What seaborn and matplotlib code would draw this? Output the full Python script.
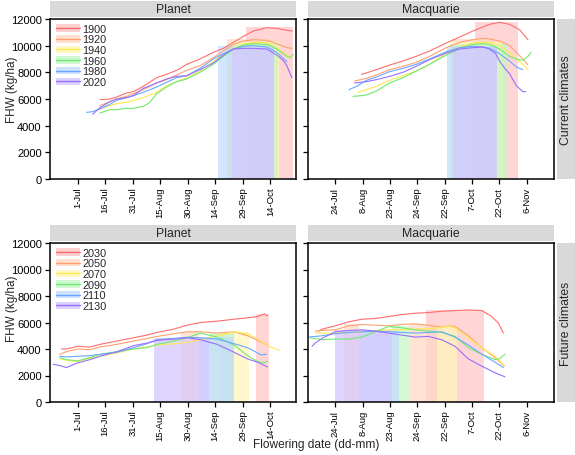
import matplotlib
matplotlib.use("Agg")
import pandas as pd
import matplotlib.pyplot as plt
from matplotlib.colors import to_rgb
from matplotlib.patches import Patch
from matplotlib.lines import Line2D
import seaborn as sns

# series labels and colours
cur_years = ['1900', '1920', '1940', '1960', '1980', '2020']
fut_years = ['2030', '2050', '2070', '2090', '2110', '2130']
year_colors = ['#ff6e6e', '#ffa06e', '#ffe94f', '#6fea6f', '#6aa8ff', '#9670ff']

# x axis (day of year) ticks
left_ticks = [182, 197, 212, 227, 242, 257, 272, 287]
left_labels = ['1-Jul', '16-Jul', '31-Jul', '15-Aug', '30-Aug', '14-Sep', '29-Sep', '14-Oct']
right_ticks = [205, 220, 235, 250, 265, 280, 295, 310]
right_labels = ['24-Jul', '8-Aug', '23-Aug', '24-Sep', '22-Sep', '7-Oct', '22-Oct', '6-Nov']
y_ticks = [0, 2000, 4000, 6000, 8000, 10000, 12000]

# ---- current climates, Planet
cp_doy = {
    '1900': [194.2, 199.6, 203.3, 208.7, 212.4, 217.8, 225.1, 230.5, 236, 241.5, 248.7, 256, 261.5, 266.9, 272.4, 277.8, 285.1, 290.5, 296, 299],
    '1920': [194.2, 199.6, 203.3, 208.7, 212.4, 217.8, 225.1, 230.5, 236, 241.5, 248.7, 256, 261.5, 266.9, 272.4, 277.8, 285.1, 290.5, 296, 299],
    '1940': [194.2, 199.6, 203.3, 208.7, 212.4, 217.8, 225.1, 230.5, 236, 241.5, 248.7, 256, 261.5, 266.9, 272.4, 277.8, 285.1, 290.5, 296, 298.7],
    '1960': [194.2, 199.6, 203.3, 208.7, 212.4, 217.8, 221, 225.1, 230.5, 236, 241.5, 248.7, 256, 261.5, 266.9, 272.4, 277.8, 285.1, 290.5, 296, 297.8, 299.6],
    '1980': [186.9, 190.2, 194.2, 199.6, 203.3, 208.7, 212.4, 217.8, 225.1, 230.5, 236, 241.5, 248.7, 256, 261.5, 266.9, 272.4, 277.8, 285.1, 290.5, 296],
    '2020': [190.2, 194.2, 199.6, 203.3, 208.7, 212.4, 217.8, 225.1, 230.5, 236, 241.5, 248.7, 256, 261.5, 266.9, 272.4, 277.8, 285.1, 290.5, 294, 296, 298.7],
}
cp_fhw = {
    '1900': [5950, 6000, 6150, 6450, 6550, 6950, 7600, 7850, 8150, 8600, 9000, 9500, 9800, 10250, 10700, 11100, 11350, 11300, 11150, 11100],
    '1920': [5500, 5800, 6000, 6200, 6400, 6700, 7200, 7450, 7800, 8150, 8500, 9100, 9600, 10100, 10350, 10450, 10400, 10150, 9850, 9800],
    '1940': [5250, 5500, 5650, 5750, 5900, 6100, 6500, 7000, 7300, 7600, 8100, 8800, 9300, 9800, 10100, 10250, 10250, 9800, 9300, 9100],
    '1960': [4950, 5200, 5200, 5300, 5300, 5450, 5700, 6400, 6900, 7300, 7500, 8000, 8600, 9200, 9750, 10050, 10150, 10100, 9750, 9200, 9100, 9350],
    '1980': [5000, 5050, 5250, 5600, 5900, 6100, 6250, 6500, 6900, 7250, 7600, 7750, 8300, 9000, 9400, 9750, 9950, 10000, 9900, 9500, 8800],
    '2020': [4850, 5350, 5800, 6000, 6100, 6250, 6800, 7200, 7500, 7700, 7750, 8200, 8700, 9300, 9750, 9800, 9800, 9750, 9300, 8900, 8500, 7600],
}
cp_band_year = ['1900', '1920', '1940', '1960', '1980', '2020']
cp_band_start = [273.6, 263.6, 264, 263.6, 258.7, 266]
cp_band_end = [299.3, 291.8, 291.8, 291, 289, 289.1]
cp_band_top = [11375, 10500, 10300, 10150, 10000, 9850]

# ---- current climates, Macquarie
cm_doy = {
    '1900': [219.3, 222, 227.5, 234.8, 242.1, 249.4, 256.7, 265.9, 273.2, 280.5, 286, 289.6, 295.1, 300.6, 306.1, 310.7],
    '1920': [215.6, 222, 227.5, 234.8, 242.1, 249.4, 256.7, 265.9, 273.2, 280.5, 286, 289.6, 295.1, 300.6, 304.3, 307.9, 310.7],
    '1940': [217.4, 222, 227.5, 234.8, 242.1, 249.4, 256.7, 265.9, 273.2, 280.5, 286, 289.6, 295.1, 300.6, 304.3, 307.9, 310.7],
    '1960': [214.7, 219.3, 222, 227.5, 234.8, 242.1, 249.4, 256.7, 265.9, 273.2, 280.5, 286, 289.6, 295.1, 300.6, 304.3, 307.9, 310.7, 312.5],
    '1980': [212.5, 217.4, 222, 227.5, 234.8, 242.1, 249.4, 256.7, 265.9, 273.2, 280.5, 286, 289.6, 295.1, 300.6, 304.3, 307.9],
    '2020': [215.6, 222, 227.5, 234.8, 242.1, 249.4, 256.7, 265.9, 273.2, 280.5, 286, 289.6, 293, 295.1, 298, 300.6, 304.3, 307.9, 309.5],
}
cm_fhw = {
    '1900': [7850, 7950, 8200, 8550, 8850, 9200, 9600, 10200, 10650, 11100, 11400, 11600, 11750, 11600, 11200, 10450],
    '1920': [7350, 7550, 7800, 8200, 8450, 8750, 9200, 9850, 10250, 10450, 10550, 10500, 10350, 10000, 9500, 9000, 8550],
    '1940': [6500, 6700, 6950, 7400, 7750, 8100, 8600, 9450, 9900, 10200, 10250, 10250, 10000, 9500, 9000, 8600, 8200],
    '1960': [6200, 6250, 6300, 6600, 7200, 7600, 8100, 8600, 9300, 9800, 10100, 10150, 10100, 9750, 9200, 9000, 8900, 9200, 9500],
    '1980': [6700, 7000, 7400, 7650, 8050, 8300, 8600, 9000, 9550, 9850, 9950, 9900, 9800, 9400, 8850, 8400, 8200],
    '2020': [7200, 7300, 7450, 7700, 8000, 8450, 8950, 9450, 9750, 9850, 9900, 9750, 9400, 8850, 8300, 7900, 7000, 6550, 6550],
}
cm_band_year = ['1900', '1920', '1940', '1960', '1980', '2020']
cm_band_start = [281.5, 269, 268, 268, 266.3, 269.3]
cm_band_end = [305.3, 297, 297, 299.8, 293.8, 293.8]
cm_band_top = [11750, 10500, 10250, 10150, 9950, 9900]

# ---- future climates, Planet
fp_doy = {
    '2030': [173.2, 176, 182, 188.8, 194.2, 203.4, 212.5, 219.8, 225.3, 234.4, 241.7, 249, 258.1, 267.3, 274.6, 280.1, 283.7, 285.5],
    '2050': [172.3, 176, 182, 188.8, 194.2, 203.4, 212.5, 219.8, 225.3, 234.4, 241.7, 249, 258.1, 267.3, 274.6, 280.1, 285.5],
    '2070': [172.3, 176, 182, 188.8, 194.2, 203.4, 212.5, 219.8, 225.3, 234.4, 241.7, 249, 258.1, 267.3, 274.6, 280.1, 285.5, 291.9],
    '2090': [172.3, 176, 182, 188.8, 194.2, 203.4, 212.5, 219.8, 225.3, 234.4, 241.7, 249, 258.1, 267.3, 274.6, 280.1, 283.7, 285.5],
    '2110': [172.3, 176, 182, 188.8, 194.2, 203.4, 212.5, 219.8, 225.3, 234.4, 241.7, 249, 258.1, 267.3, 274.6, 280.1, 282, 285],
    '2130': [168.7, 172.3, 176, 182, 188.8, 194.2, 203.4, 212.5, 219.8, 225.3, 234.4, 241.7, 249, 258.1, 267.3, 274.6, 280.1, 285.5],
}
fp_fhw = {
    '2030': [4000, 4000, 4200, 4150, 4350, 4600, 4850, 5050, 5250, 5500, 5800, 6000, 6100, 6250, 6350, 6450, 6650, 6500],
    '2050': [3600, 3800, 4000, 3950, 4150, 4350, 4600, 4800, 4950, 5150, 5300, 5300, 5200, 5300, 5000, 4650, 4300],
    '2070': [3250, 3150, 3050, 3300, 3450, 3700, 4000, 4150, 4300, 4400, 4500, 4700, 5000, 5300, 5150, 4750, 4250, 3900],
    '2090': [3350, 3200, 3100, 3350, 3600, 3800, 4000, 4100, 4350, 4600, 4850, 5200, 4900, 4300, 3500, 3050, 2950, 3100],
    '2110': [3450, 3400, 3450, 3500, 3600, 3750, 4100, 4400, 4700, 4800, 4880, 4850, 4750, 4400, 4100, 3700, 3550, 3600],
    '2130': [2850, 2750, 2600, 2950, 3200, 3450, 3800, 4250, 4450, 4650, 4750, 4850, 4700, 4350, 3750, 3250, 3000, 2650],
}
fp_band_year = ['2030', '2050', '2050', '2070', '2090', '2110', '2130']
fp_band_start = [279.2, 238.6, 259.4, 267.3, 253.6, 248.1, 223.4]
fp_band_end = [286.4, 248.1, 267.3, 275.2, 267.3, 267.3, 253.6]
fp_band_top = [6650, 5300, 5300, 5300, 5200, 4880, 4850]

# ---- future climates, Macquarie
fm_doy = {
    '2030': [195.9, 197.7, 205, 212.3, 219.6, 226.9, 234.2, 241.5, 248.8, 256.1, 263.4, 270.7, 278, 285.4, 290.8, 294.5, 297.2],
    '2050': [194, 197.7, 205, 212.3, 219.6, 226.9, 234.2, 241.5, 248.8, 256.1, 263.4, 267, 270.7, 278, 285.4, 292.7, 297.7],
    '2070': [194, 197.7, 205, 212.3, 219.6, 226.9, 234.2, 241.5, 248.8, 256.1, 263.4, 267, 270.7, 278, 285.4, 292.7, 297.7],
    '2090': [191.3, 197.7, 205, 212.3, 219.6, 226.9, 234.2, 241.5, 248.8, 256.1, 263.4, 270.7, 278, 285.4, 292.7, 295, 298.1],
    '2110': [190.4, 197.7, 205, 212.3, 219.6, 226.9, 234.2, 241.5, 248.8, 256.1, 263.4, 270.7, 278, 285.4, 292.7, 297.2],
    '2130': [192.2, 194, 197.7, 205, 212.3, 219.6, 226.9, 234.2, 241.5, 248.8, 256.1, 263.4, 270.7, 278, 285.4, 292.7, 298.1],
}
fm_fhw = {
    '2030': [5350, 5500, 5750, 6050, 6250, 6300, 6450, 6600, 6700, 6750, 6850, 6900, 6950, 6900, 6450, 5950, 5200],
    '2050': [5350, 5400, 5450, 5750, 5850, 5800, 5750, 5850, 5900, 5800, 5650, 5750, 5700, 5000, 4100, 3350, 2700],
    '2070': [5200, 5200, 5200, 5250, 5300, 5350, 5450, 5450, 5500, 5550, 5600, 5750, 5600, 4850, 4100, 3450, 2750],
    '2090': [4850, 4700, 4750, 4750, 4900, 5300, 5700, 5600, 5450, 5350, 5250, 4950, 4100, 3600, 3200, 3250, 3600],
    '2110': [4900, 5000, 5150, 5250, 5300, 5350, 5300, 5250, 5200, 5250, 5300, 4900, 4300, 3600, 3000, 2600],
    '2130': [4200, 4450, 4800, 5300, 5400, 5450, 5350, 5200, 5050, 4900, 4950, 4700, 4200, 3250, 2700, 2200, 1900],
}
fm_band_year = ['2030', '2050', '2050', '2070', '2090', '2110', '2130']
fm_band_start = [254.6, 209.5, 246, 260.7, 236, 217.8, 205]
fm_band_end = [286.6, 217.8, 260.7, 271.6, 246, 240, 236]
fm_band_top = [6950, 5900, 5900, 5750, 5700, 5350, 5450]

sns.set_style("ticks")
plt.rcParams['font.family'] = ['Liberation Sans', 'DejaVu Sans']

W, H = 575, 456
fig = plt.figure(figsize=(W / 100, H / 100), dpi=100)


def px(l, t, r, b):
    return [l / W, 1 - b / H, (r - l) / W, (b - t) / H]


def pastel(c, k=0.4):
    r, g, b = to_rgb(c)
    return (1 - k + k * r, 1 - k + k * g, 1 - k + k * b)


def strip(rect, text, rot=0):
    s = fig.add_axes(px(*rect))
    s.set_facecolor('#d9d9d9')
    s.set_xticks([])
    s.set_yticks([])
    for sp in s.spines.values():
        sp.set_visible(False)
    s.text(0.5, 0.5, text, ha='center', va='center', rotation=rot, fontsize=8.8, transform=s.transAxes)


def panel(rect, doy, fhw, years, b_year, b_start, b_end, b_top, ticks, labels, xlim, left, legend):
    ax = fig.add_axes(px(*rect))
    pal = dict(zip(years, year_colors))
    # flowering windows (later years drawn on top)
    for yr in years:
        for y0, s0, e0, t0 in zip(b_year, b_start, b_end, b_top):
            if y0 == yr:
                ax.bar(s0, t0, width=e0 - s0, align='edge', color=pastel(pal[yr]), alpha=0.72, lw=0, zorder=1)
    rows = []
    for yr in years:
        for d, v in zip(doy[yr], fhw[yr]):
            rows.append({'doy': d, 'fhw': v, 'year': yr})
    df = pd.DataFrame(rows)
    sns.lineplot(data=df, x='doy', y='fhw', hue='year', hue_order=years, palette=pal,
                 estimator=None, sort=False, lw=0.8, legend=False, ax=ax, zorder=2)
    ax.set_xlim(*xlim)
    ax.set_ylim(0, 12000)
    ax.set_xticks(ticks)
    ax.set_xticklabels(labels, rotation=90)
    ax.set_yticks(y_ticks)
    if not left:
        ax.set_yticklabels([])
    ax.set_xlabel('')
    ax.set_ylabel('')
    ax.tick_params(length=3.5, width=0.9, colors='black', pad=2.5)
    ax.tick_params(axis='x', labelsize=6.8, pad=2)
    ax.tick_params(axis='y', labelsize=8)
    for sp in ax.spines.values():
        sp.set_visible(True)
        sp.set_linewidth(1.1)
        sp.set_color('black')
    if legend:
        handles = [(Patch(facecolor=pastel(pal[yr]), alpha=0.8, lw=0), Line2D([], [], color=pal[yr], lw=1))
                   for yr in years]
        ax.legend(handles, years, loc='upper left', bbox_to_anchor=(0.012, 0.99), frameon=False, fontsize=7.8,
                  handlelength=2.2, handleheight=0.7, handletextpad=0.2, labelspacing=0.06,
                  borderaxespad=0, borderpad=0.3)
    return ax


panel((50, 20, 296, 180), cp_doy, cp_fhw, cur_years, cp_band_year, cp_band_start, cp_band_end, cp_band_top,
      left_ticks, left_labels, (167, 301), True, True)
panel((308, 20, 554, 180), cm_doy, cm_fhw, cur_years, cm_band_year, cm_band_start, cm_band_end, cm_band_top,
      right_ticks, right_labels, (190, 325), False, False)
panel((50, 244, 296, 403), fp_doy, fp_fhw, fut_years, fp_band_year, fp_band_start, fp_band_end, fp_band_top,
      left_ticks, left_labels, (167, 301), True, True)
panel((308, 244, 554, 403), fm_doy, fm_fhw, fut_years, fm_band_year, fm_band_start, fm_band_end, fm_band_top,
      right_ticks, right_labels, (190, 325), False, False)

strip((50, 2, 296, 18), 'Planet')
strip((308, 2, 554, 18), 'Macquarie')
strip((50, 226, 296, 242), 'Planet')
strip((308, 226, 554, 242), 'Macquarie')
strip((557, 20, 575, 180), 'Current climates', 90)
strip((557, 244, 575, 403), 'Future climates', 90)

fig.text(12 / W, 1 - 89.5 / H, 'FHW (kg/ha)', rotation=90, ha='center', va='center', fontsize=8.4)
fig.text(12 / W, 1 - 309 / H, 'FHW (kg/ha)', rotation=90, ha='center', va='center', fontsize=8.4)
fig.text(316.5 / W, 1 - 445 / H, 'Flowering date (dd-mm)', ha='center', va='center', fontsize=8.6)

fig.savefig('out.png', dpi=100)
